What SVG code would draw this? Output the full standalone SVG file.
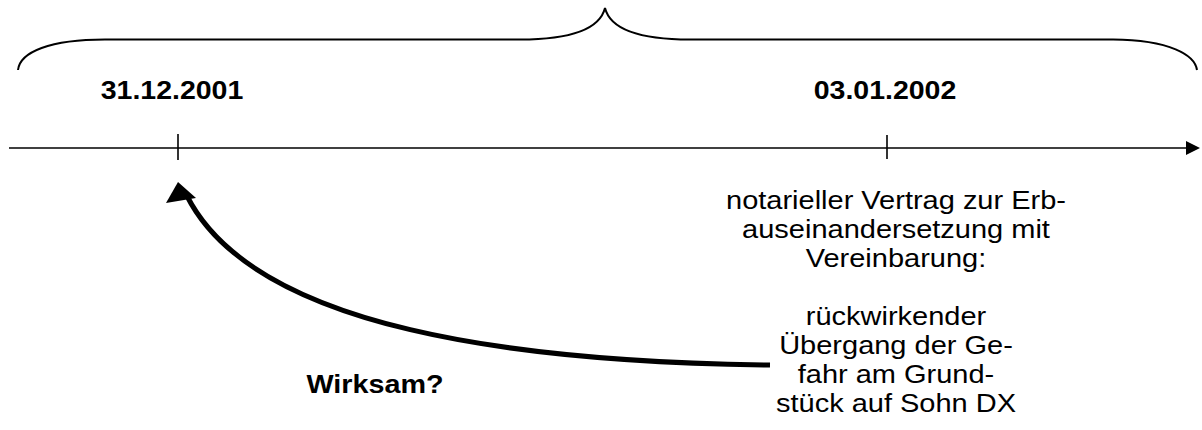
<svg xmlns="http://www.w3.org/2000/svg" width="1202" height="430" viewBox="0 0 1202 430">
  <style>
    .line { fill: none; stroke: #000; stroke-linecap: butt; }
    .txt { font-family: "Liberation Sans", Arial, sans-serif; font-size: 25px; fill: #000; text-anchor: middle; }
    .bold { font-weight: bold; }
  </style>

  <!-- connectors: time axis, ticks, brace, curved arrow -->
  <g id="connectors">
    <line class="line" x1="9" y1="148" x2="1188" y2="148" stroke-width="1.6"/>
    <polygon points="1200,148 1186,141 1186,155" fill="#000"/>
    <line class="line" x1="178" y1="134" x2="178" y2="160" stroke-width="1.6"/>
    <line class="line" x1="887" y1="135" x2="887" y2="159" stroke-width="1.6"/>

    <path class="line" stroke-width="2"
          d="M18,70 C20,52 50,39.5 105,39.5 L520,39.5 C575,39.5 600,28 605,8 C610,28 635,39.5 690,39.5 L1113,39.5 C1170,40 1195,55 1197,70"/>

    <path class="line" stroke-width="5" d="M770,365 C520,362 255,330 187,196"/>
    <polygon points="178,182 166,203 196,198" fill="#000"/>
  </g>

  <g id="date-2001">
    <text class="txt bold" transform="translate(172 99) scale(1.14 1)">31.12.2001</text>
  </g>

  <g id="date-2002">
    <text class="txt bold" transform="translate(885 99) scale(1.14 1)">03.01.2002</text>
  </g>

  <g id="contract">
    <text class="txt" transform="translate(896 209) scale(1.16 1)">notarieller Vertrag zur Erb-</text>
    <text class="txt" transform="translate(896 238) scale(1.16 1)">auseinandersetzung mit</text>
    <text class="txt" transform="translate(896 267) scale(1.16 1)">Vereinbarung:</text>
  </g>

  <g id="agreement">
    <text class="txt" transform="translate(896 325) scale(1.16 1)">rückwirkender</text>
    <text class="txt" transform="translate(896 354) scale(1.16 1)">Übergang der Ge-</text>
    <text class="txt" transform="translate(896 383) scale(1.16 1)">fahr am Grund-</text>
    <text class="txt" transform="translate(896 412) scale(1.16 1)">stück auf Sohn DX</text>
  </g>

  <g id="question">
    <text class="txt bold" transform="translate(375 393) scale(1.15 1)">Wirksam?</text>
  </g>
</svg>
